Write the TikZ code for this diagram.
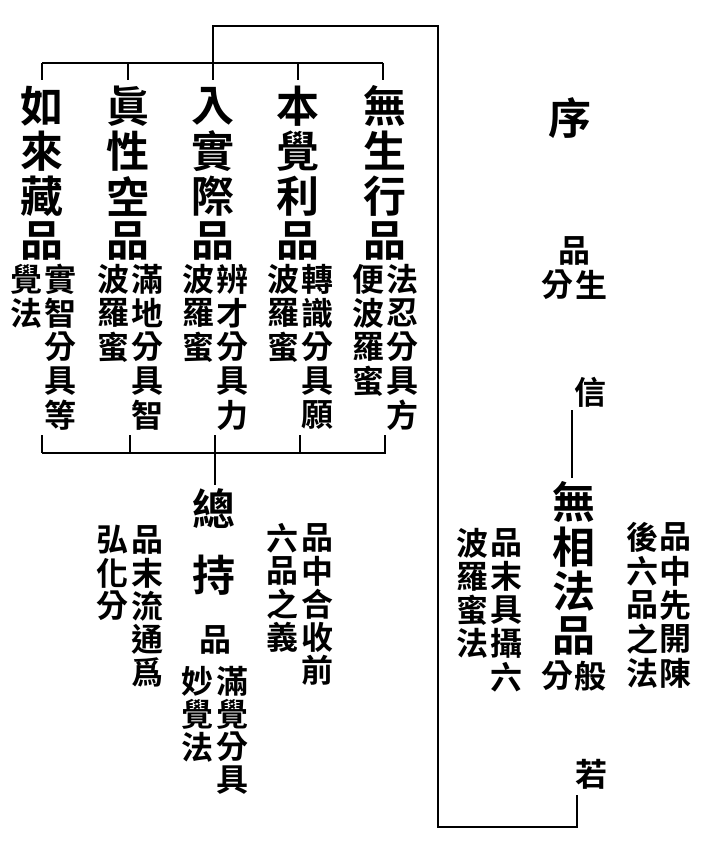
\documentclass[tikz,border=0pt]{standalone}
\usepackage{fontspec}
\newfontfamily\cjk{Noto Sans CJK TC}[BoldFont=* Bold]
\newcommand\colchars[6]{\foreach \ch [count=\i from 0] in {#6} \node[#4] (#5\i) at (#1,{#2+\i*#3}) {\ch};}
\begin{document}
\begin{tikzpicture}[x=1pt,y=-1pt,
  big/.style={font=\cjk\bfseries\fontsize{43}{43}\selectfont, inner sep=0pt},
  small/.style={font=\cjk\bfseries\fontsize{32}{32}\selectfont, inner sep=0pt},
  rule/.style={line width=1.5pt},
  heavy/.style={line width=2.4pt}]
\useasboundingbox[fill=white] (0,0) rectangle (702,848);

% ---- five main columns
\colchars{42}{106}{45}{big}{a}{如,來,藏,品}
\colchars{60}{279}{34}{small}{ar}{實,智,分,具,等}
\colchars{26}{279}{34}{small}{al}{覺,法}

\colchars{128}{106}{45}{big}{b}{眞,性,空,品}
\colchars{147}{279}{34}{small}{br}{滿,地,分,具,智}
\colchars{113}{279}{34}{small}{bl}{波,羅,蜜}

\colchars{213}{106}{45}{big}{c}{入,實,際,品}
\colchars{232}{279}{34}{small}{cr}{辨,才,分,具,力}
\colchars{198}{279}{34}{small}{cl}{波,羅,蜜}

\colchars{298}{106}{45}{big}{d}{本,覺,利,品}
\colchars{317}{279}{34}{small}{dr}{轉,識,分,具,願}
\colchars{283}{279}{34}{small}{dl}{波,羅,蜜}

\colchars{385}{106}{45}{big}{e}{無,生,行,品}
\colchars{402}{279}{34}{small}{er}{法,忍,分,具,方}
\colchars{368}{279}{34}{small}{el}{便,波,羅,蜜}

% ---- 總持品
\node[big] (zong) at (214,509) {總};
\node[big] (chi) at (214,575) {持};
\node[small] (zpin) at (215,640) {品};
\colchars{232}{681}{33}{small}{zr}{滿,覺,分,具}
\colchars{197}{681}{33}{small}{zl}{妙,覺,法}
\colchars{147}{540}{33}{small}{lr}{品,末,流,通,爲}
\colchars{112}{540}{33}{small}{ll}{弘,化,分}
\colchars{317}{538}{33}{small}{rr}{品,中,合,收,前}
\colchars{282}{538}{33}{small}{rl}{六,品,之,義}

% ---- right part
\node[big] (xu) at (570,118) {序};
\node[small] (xpin) at (574,251) {品};
\node[small] (xfen) at (557,285) {分};
\node[small] (xsheng) at (591,285) {生};
\node[small] (xin) at (590,392) {信};
\colchars{574}{502}{44.7}{big}{w}{無,相,法,品}
\node[small] (wfen) at (557,676) {分};
\node[small] (wban) at (590,676) {般};
\node[small] (wruo) at (591,774) {若};
\colchars{675}{537}{34}{small}{wr}{品,中,先,開,陳}
\colchars{642}{537}{34}{small}{wq}{後,六,品,之,法}
\colchars{506}{543}{33.5}{small}{wl}{品,末,具,攝,六}
\colchars{472}{543}{33.5}{small}{wk}{波,羅,蜜,法}

% ---- connectors
\coordinate (t1) at (213,63);
\coordinate (t2) at (213,26);
\coordinate (t3) at (438,26);
\coordinate (t4) at (438,827);
\coordinate (t5) at (577,827);
\coordinate (t6) at (577,795);
\draw[rule] (t1) -- (t2) -- (t3) -- (t4) -- (t5) -- (t6);
\draw[heavy] (438,30) -- (438,822);

\coordinate (barL) at (42,63);
\coordinate (barR) at (383,63);
\draw[rule] (barL) -- (barR);
\foreach \x in {42,128,213,298,383} \draw[rule] (\x,63) -- (\x,80);

\coordinate (botL) at (42,453);
\coordinate (botR) at (386,453);
\draw[rule] (botL) -- (botR);
\foreach \x in {42,130,215,300,385} \draw[rule] (\x,435) -- (\x,453);
\coordinate (stemT) at (215,453);
\coordinate (stemB) at (215,485);
\draw[rule] (stemT) -- (stemB);

\coordinate (xa) at (572,410);
\coordinate (xb) at (572,478);
\draw[rule] (xa) -- (xb);
\end{tikzpicture}
\end{document}
